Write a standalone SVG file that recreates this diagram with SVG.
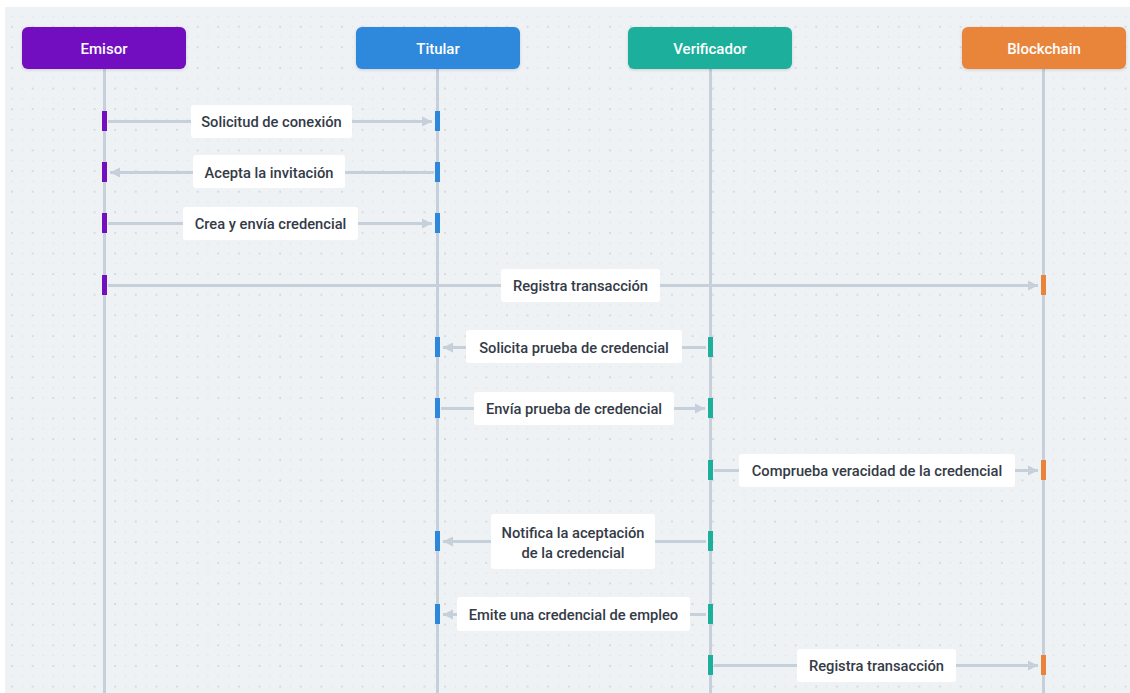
<svg xmlns="http://www.w3.org/2000/svg" width="1130" height="693" viewBox="0 0 1130 693">
<style>
.hdr{font-family:Roboto,"Liberation Sans",sans-serif;font-size:15px;font-weight:500;fill:#ffffff;text-anchor:middle}
.lbl{font-family:Roboto,"Liberation Sans",sans-serif;font-size:14.7px;font-weight:500;fill:#343b47;text-anchor:middle}
.life{stroke:#c6d0da;stroke-width:3;fill:none}
.msg{stroke:#c6d0da;stroke-width:3;fill:none;marker-end:url(#arr)}
.lb{fill:#ffffff;rx:3}
.p{fill:#7210c0}.t{fill:#2d88db}.v{fill:#1caf9c}.b{fill:#e8853a}
</style>
<defs>
<pattern id="dots" x="7.1" y="1.1" width="20.62" height="20.62" patternUnits="userSpaceOnUse">
<circle cx="5" cy="5" r="0.9" fill="#c3c9d1"/>
<circle cx="15.31" cy="5" r="0.8" fill="#dde1e7"/>
<circle cx="5" cy="15.31" r="0.8" fill="#dde1e7"/>
<circle cx="15.31" cy="15.31" r="0.8" fill="#dde1e7"/>
</pattern>
<marker id="arr" markerUnits="userSpaceOnUse" markerWidth="11" markerHeight="11" refX="10" refY="5.5" orient="auto">
<path d="M0,0.5 L10,5.5 L0,10.5 z" fill="#c6d0da"/>
</marker>
<filter id="sh" x="-10%" y="-20%" width="120%" height="150%">
<feDropShadow dx="0" dy="1" stdDeviation="1.5" flood-color="#000" flood-opacity="0.15"/>
</filter>
</defs>
<rect x="0" y="0" width="1130" height="693" fill="#ffffff"/>
<rect x="5" y="7" width="1125" height="686" fill="#eff2f5"/>
<rect x="5" y="7" width="1125" height="686" fill="url(#dots)"/>

<g id="lifelines">
<line class="life" x1="104.5" y1="69" x2="104.5" y2="693"/>
<line class="life" x1="437.5" y1="69" x2="437.5" y2="693"/>
<line class="life" x1="710.5" y1="69" x2="710.5" y2="693"/>
<line class="life" x1="1043.5" y1="69" x2="1043.5" y2="693"/>
</g>

<g id="node-emisor"><rect x="22" y="27" width="164" height="42" rx="6" class="p" filter="url(#sh)"/><text class="hdr" x="104" y="53.5">Emisor</text></g>
<g id="node-titular"><rect x="356" y="27" width="164" height="42" rx="6" class="t" filter="url(#sh)"/><text class="hdr" x="438" y="53.5">Titular</text></g>
<g id="node-verificador"><rect x="628" y="27" width="164" height="42" rx="6" class="v" filter="url(#sh)"/><text class="hdr" x="710" y="53.5">Verificador</text></g>
<g id="node-blockchain"><rect x="962" y="27" width="164" height="42" rx="6" class="b" filter="url(#sh)"/><text class="hdr" x="1044" y="53.5">Blockchain</text></g>

<g id="connectors">
<line class="msg" x1="108" y1="121.5" x2="432" y2="121.5"/>
<line class="msg" x1="434" y1="172.5" x2="110" y2="172.5"/>
<line class="msg" x1="108" y1="223.5" x2="432" y2="223.5"/>
<line class="msg" x1="108" y1="285.5" x2="1038" y2="285.5"/>
<line class="msg" x1="706" y1="347.5" x2="443" y2="347.5"/>
<line class="msg" x1="441" y1="408.5" x2="705" y2="408.5"/>
<line class="msg" x1="714" y1="470.5" x2="1038" y2="470.5"/>
<line class="msg" x1="706" y1="541.5" x2="443" y2="541.5"/>
<line class="msg" x1="706" y1="614.5" x2="443" y2="614.5"/>
<line class="msg" x1="714" y1="665.5" x2="1038" y2="665.5"/>
</g>

<g id="activations">
<rect x="102" y="111" width="5" height="20" class="p"/><rect x="435" y="111" width="5" height="20" class="t"/>
<rect x="102" y="162" width="5" height="20" class="p"/><rect x="435" y="162" width="5" height="20" class="t"/>
<rect x="102" y="213" width="5" height="20" class="p"/><rect x="435" y="213" width="5" height="20" class="t"/>
<rect x="102" y="275" width="5" height="20" class="p"/><rect x="1041" y="275" width="5" height="20" class="b"/>
<rect x="435" y="337" width="5" height="20" class="t"/><rect x="708" y="337" width="5" height="20" class="v"/>
<rect x="435" y="398" width="5" height="20" class="t"/><rect x="708" y="398" width="5" height="20" class="v"/>
<rect x="708" y="460" width="5" height="20" class="v"/><rect x="1041" y="460" width="5" height="20" class="b"/>
<rect x="435" y="531" width="5" height="20" class="t"/><rect x="708" y="531" width="5" height="20" class="v"/>
<rect x="435" y="604" width="5" height="20" class="t"/><rect x="708" y="604" width="5" height="20" class="v"/>
<rect x="708" y="655" width="5" height="20" class="v"/><rect x="1041" y="655" width="5" height="20" class="b"/>
</g>

<g id="labels">
<g id="m1"><rect class="lb" x="191" y="105" width="161" height="33"/><text class="lbl" x="271.5" y="126.5">Solicitud de conexión</text></g>
<g id="m2"><rect class="lb" x="193" y="155" width="152" height="33"/><text class="lbl" x="269" y="177.5">Acepta la invitación</text></g>
<g id="m3"><rect class="lb" x="183" y="207" width="175" height="33"/><text class="lbl" x="270.5" y="228.5">Crea y envía credencial</text></g>
<g id="m4"><rect class="lb" x="501" y="269" width="159" height="33"/><text class="lbl" x="580.5" y="290.5">Registra transacción</text></g>
<g id="m5"><rect class="lb" x="466" y="330" width="216" height="33"/><text class="lbl" x="574" y="352.5">Solicita prueba de credencial</text></g>
<g id="m6"><rect class="lb" x="474" y="392" width="200" height="33"/><text class="lbl" x="574" y="413.5">Envía prueba de credencial</text></g>
<g id="m7"><rect class="lb" x="739" y="454" width="276" height="33"/><text class="lbl" x="877" y="475.5">Comprueba veracidad de la credencial</text></g>
<g id="m8"><rect class="lb" x="491" y="514" width="164" height="55"/><text class="lbl" x="573" y="537.5">Notifica la aceptación</text><text class="lbl" x="573" y="557.5">de la credencial</text></g>
<g id="m9"><rect class="lb" x="457" y="597" width="233" height="34"/><text class="lbl" x="573.5" y="619.5">Emite una credencial de empleo</text></g>
<g id="m10"><rect class="lb" x="797" y="649" width="159" height="33"/><text class="lbl" x="876.5" y="670.5">Registra transacción</text></g>
</g>
</svg>
